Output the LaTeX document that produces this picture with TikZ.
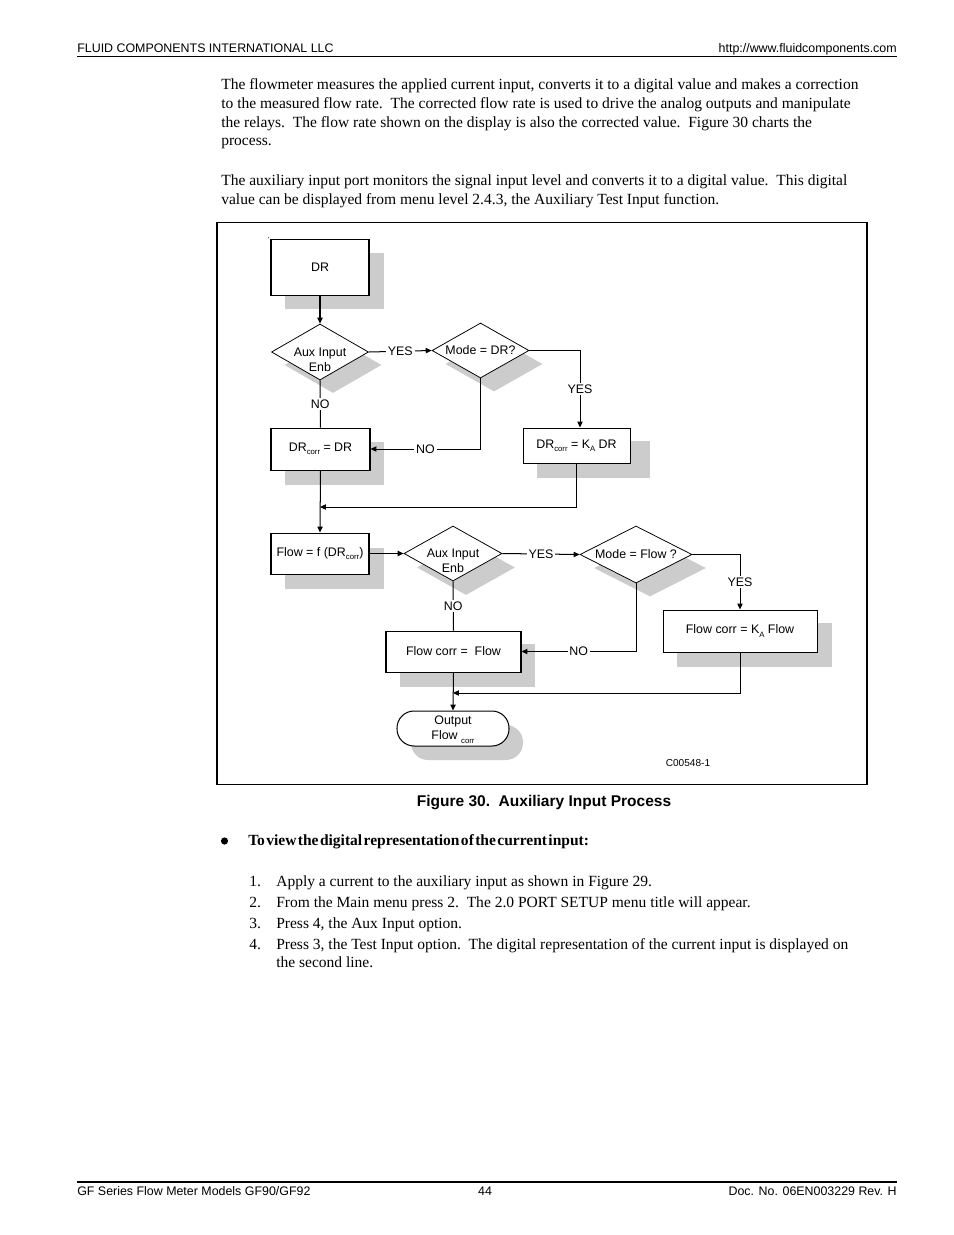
\documentclass[tikz,border=0pt]{standalone}
\usepackage{fontspec}
\setmainfont{Liberation Serif}
\newfontfamily\arial{Liberation Sans}
\usetikzlibrary{shapes.geometric,arrows.meta}
\def\pu{0.6446pt}
\newcommand\lo[1]{\raisebox{-0.5ex}{\fontsize{5}{5}\selectfont #1}}
\newcommand\dfont{\arial\fontsize{8}{9.6}\selectfont}
\newcommand\lifted[2]{\raisebox{#1}[0pt][0pt]{\begin{tabular}{@{}c@{}}#2\end{tabular}}}
\begin{document}
\begin{tikzpicture}[x=0.6446pt,y=-0.6446pt,
  box/.style={draw, line width=0.65pt, fill=white, font=\dfont, inner sep=0pt, align=center},
  dia/.style={diamond, draw, line width=0.5pt, fill=white, font=\dfont, inner sep=0pt, align=center},
  shade/.style={fill=black!20},
  conn/.style={line width=0.65pt},
  arr/.style={conn, -{Triangle[length=3.8pt,width=3.4pt]}},
  lbl/.style={fill=white, inner sep=1.2pt, font=\dfont},
  body/.style={anchor=base west, inner sep=0pt, font=\fontsize{10}{12}\selectfont},
  hdr/.style={inner sep=0pt, font=\arial\fontsize{8}{9.6}\selectfont}]
\useasboundingbox[fill=white] (0,0) rectangle (954,1235);

% header / footer
\node[hdr, anchor=base west] (h1) at (77,52) {FLUID COMPONENTS INTERNATIONAL LLC};
\node[hdr, anchor=base east] (h2) at (897,52) {http://www.fluidcomponents.com};
\draw[line width=0.8pt] (77,56.5) -- (897,56.5);
\draw[line width=0.8pt] (77,1182) -- (897,1182);
\node[hdr, anchor=base west] (f1) at (77,1195) {GF Series Flow Meter Models GF90/GF92};
\node[hdr, anchor=base] (f2) at (485,1195) {44};
\node[hdr, anchor=base east] (f3) at (897,1195) {Doc. No. 06EN003229 Rev. H};

% body text
\node[body] (p1) at (221,89.5) {The flowmeter measures the applied current input, converts it to a digital value and makes a correction};
\node[body] (p2) at (221,108) {to the measured flow rate.\ \ The corrected flow rate is used to drive the analog outputs and manipulate};
\node[body] (p3) at (221,127) {the relays.\ \ The flow rate shown on the display is also the corrected value.\ \ Figure 30 charts the};
\node[body] (p4) at (221,145.5) {process.};
\node[body] (p5) at (221,185.5) {The auxiliary input port monitors the signal input level and converts it to a digital value.\ \ This digital};
\node[body] (p6) at (221,204.5) {value can be displayed from menu level 2.4.3, the Auxiliary Test Input function.};

% frame
\draw[line width=1.1pt] (217,222.5) rectangle (867,784.5);
\fill (268.7,237.7) circle (0.5);

% shadows
\fill[shade] (285,253) rectangle (384,309);
\fill[shade] (285,442) rectangle (384,485);
\fill[shade] (537,441) rectangle (650,478);
\fill[shade] (285,548) rectangle (384,589);
\fill[shade] (400,644) rectangle (535,687);
\fill[shade] (677,623) rectangle (832,667);
\fill[shade, rounded corners=11pt] (411,725) rectangle (523,760);
\node[diamond, shade, inner sep=0pt, minimum width=97*\pu, minimum height=56*\pu] (s1) at (333,365) {};
\node[diamond, shade, inner sep=0pt, minimum width=97*\pu, minimum height=55*\pu] (s2) at (494,364) {};
\node[diamond, shade, inner sep=0pt, minimum width=98*\pu, minimum height=55*\pu] (s3) at (466,567.5) {};
\node[diamond, shade, inner sep=0pt, minimum width=112*\pu, minimum height=57*\pu] (s4) at (650,568) {};

% nodes
\node[box, minimum width=98*\pu, minimum height=56*\pu] (dr) at (320,267) {DR};
\node[dia, aspect=1.73, minimum width=97*\pu, minimum height=56*\pu] (d1) at (320,352) {\lifted{-7.8pt}{Aux Input\\Enb}};
\node[dia, aspect=1.76, minimum width=97*\pu, minimum height=55*\pu] (d2) at (480.5,350.5) {Mode = DR?};
\node[box, minimum width=99*\pu, minimum height=42*\pu] (b2) at (320.5,449) {DR\lo{corr} = DR};
\node[box, minimum width=107*\pu, minimum height=35*\pu] (b3) at (576.5,445.5) {DR\lo{corr} = K\lo{A} DR};
\node[box, minimum width=98*\pu, minimum height=41*\pu] (b4) at (320,553.5) {Flow = f (DR\lo{corr})};
\node[dia, aspect=1.78, minimum width=98*\pu, minimum height=55*\pu] (d3) at (453,553.5) {\lifted{-7.3pt}{Aux Input\\Enb}};
\node[dia, aspect=1.96, minimum width=112*\pu, minimum height=57*\pu] (d4) at (636,554.5) {Mode = Flow ?};
\node[box, minimum width=154*\pu, minimum height=42*\pu] (b6) at (740,631) {Flow corr = K\lo{A} Flow};
\node[box, minimum width=135*\pu, minimum height=41*\pu] (b5) at (453.5,651.5) {Flow corr =\ \ Flow};
\node[box, rounded corners=11pt, minimum width=112*\pu, minimum height=35*\pu] (out) at (453,728.5) {\lifted{-2.6pt}{Output\\Flow \lo{corr}}};
\node[font=\arial\fontsize{6.5}{7}\selectfont, inner sep=0pt] (code) at (688,763) {C00548-1};

\coordinate (j1) at (320,507);
\coordinate (j2) at (453,693);

% connectors
\draw[arr] (dr) -- (d1);
\draw[arr] (d1.east) -- node[lbl] {YES} (d2.west);
\draw[arr] (d2.east) -| node[lbl, pos=0.75] {YES} ([xshift=3.5*\pu]b3.north);
\draw[arr] (d2.south) |- node[lbl, pos=0.75] {NO} (b2.east);
\draw[conn] (d1.south) -- node[lbl] {NO} (b2.north);
\draw[arr] (b2.south) -- (b4.north);
\draw[arr] (b3.south) |- (j1);
\draw[arr] (b4.east) -- (d3.west);
\draw[arr] (d3.east) -- node[lbl] {YES} (d4.west);
\draw[arr] (d4.east) -| node[lbl, pos=0.75] {YES} (b6.north);
\draw[arr] (d4.south) |- node[lbl, pos=0.75] {NO} (b5.east);
\draw[conn] (d3.south) -- node[lbl] {NO} (b5.north);
\draw[arr] (b5.south) -- (out.north);
\draw[arr] (b6.south) |- (j2);

% caption and list
\node[inner sep=0pt, anchor=base, font=\arial\bfseries\fontsize{10}{12}\selectfont] (cap) at (544,806) {Figure 30.\ \ Auxiliary Input Process};
\fill (224.5,841) circle (3.6) coordinate (bul);
\node[body, font=\bfseries\fontsize{10}{12}\selectfont] (bt) at (248,845.5) {\spaceskip=0.9pt plus 0.5pt\relax To view the digital representation of the current input:};
\node[body] (n1) at (249,886.5) {1.};
\node[body] (t1) at (276,886.5) {Apply a current to the auxiliary input as shown in Figure 29.};
\node[body] (n2) at (249,907) {2.};
\node[body] (t2) at (276,907) {From the Main menu press 2.\ \ The 2.0 PORT SETUP menu title will appear.};
\node[body] (n3) at (249,928.5) {3.};
\node[body] (t3) at (276,928.5) {Press 4, the Aux Input option.};
\node[body] (n4) at (249,949) {4.};
\node[body] (t4) at (276,949) {Press 3, the Test Input option.\ \ The digital representation of the current input is displayed on};
\node[body] (t5) at (276,967.5) {the second line.};
\end{tikzpicture}
\end{document}
